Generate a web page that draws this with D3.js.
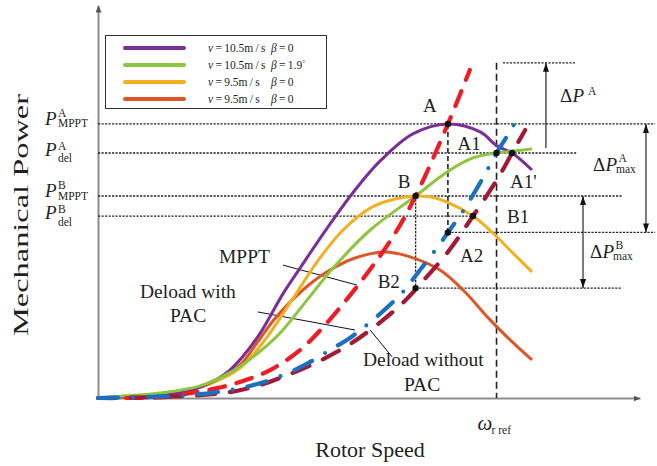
<!DOCTYPE html>
<html>
<head>
<meta charset="utf-8">
<script src="https://cdn.jsdelivr.net/npm/d3@7/dist/d3.min.js"></script>
<style>
  html, body { margin: 0; padding: 0; background: #fff; }
  text { font-family: "Liberation Serif", "Times New Roman", serif; fill: #231f20; }
</style>
</head>
<body>
<svg id="chart" width="657" height="466"></svg>
<script>
// Rotor speed in p.u. of the reference speed, mechanical power in p.u. of P_MPPT^A.
// Power curves P(ω) for the wind / pitch cases in the legend
const omegaV105 = [0, 0.105, 0.206, 0.269, 0.331, 0.399, 0.464, 0.507, 0.575, 0.645, 0.708, 0.790, 0.878, 0.959, 1.001, 1.039, 1.089];
const powerV105 = [0, 0.007, 0.018, 0.047, 0.102, 0.219, 0.380, 0.474, 0.620, 0.759, 0.865, 0.964, 1.000, 0.971, 0.920, 0.894, 0.832];

const omegaV105Pitch = [0, 0.063, 0.156, 0.256, 0.339, 0.399, 0.457, 0.519, 0.590, 0.683, 0.797, 0.876, 0.941, 1.000, 1.041, 1.089];
const powerV105Pitch = [0, 0.007, 0.018, 0.044, 0.099, 0.161, 0.237, 0.347, 0.474, 0.613, 0.737, 0.825, 0.876, 0.894, 0.901, 0.909];

const omegaV95 = [0, 0.105, 0.206, 0.281, 0.356, 0.419, 0.482, 0.557, 0.615, 0.683, 0.745, 0.797, 0.833, 0.876, 0.941, 0.991, 1.041, 1.089];
const powerV95 = [0, 0.007, 0.022, 0.051, 0.109, 0.212, 0.347, 0.511, 0.613, 0.693, 0.726, 0.737, 0.734, 0.715, 0.664, 0.602, 0.529, 0.460];

const omegaV95b = [0, 0.105, 0.206, 0.281, 0.356, 0.399, 0.439, 0.482, 0.532, 0.582, 0.645, 0.720, 0.783, 0.858, 0.916, 0.984, 1.034, 1.089];
const powerV95b = [0, 0.007, 0.022, 0.055, 0.120, 0.201, 0.281, 0.350, 0.416, 0.467, 0.511, 0.533, 0.515, 0.467, 0.394, 0.285, 0.212, 0.139];

// Control trajectories: MPPT, deload with PAC, deload without PAC
const omegaMppt = [0, 0.173, 0.231, 0.299, 0.364, 0.432, 0.507, 0.565, 0.657, 0.740, 0.797, 0.878, 0.933];
const powerMppt = [0, 0.004, 0.018, 0.036, 0.062, 0.102, 0.175, 0.259, 0.420, 0.588, 0.737, 1.000, 1.197];

const omegaPac = [0, 0.130, 0.281, 0.381, 0.439, 0.514, 0.582, 0.632, 0.665, 0.713, 0.765, 0.808, 0.858, 0.878, 0.916, 0.966, 1.000, 1.039, 1.059];
const powerPac = [0, 0.004, 0.018, 0.044, 0.069, 0.117, 0.175, 0.219, 0.255, 0.314, 0.387, 0.467, 0.562, 0.604, 0.682, 0.803, 0.894, 0.985, 1.044];

const omegaNoPac = [0, 0.156, 0.314, 0.399, 0.464, 0.550, 0.625, 0.683, 0.765, 0.813, 0.878, 0.941, 1.001, 1.039, 1.072];
const powerNoPac = [0, 0.004, 0.018, 0.044, 0.077, 0.131, 0.190, 0.248, 0.347, 0.423, 0.533, 0.664, 0.796, 0.894, 0.978];

// Legend entries
const legendSpeeds = ["10.5", "10.5", "9.5", "9.5"];
const legendPitch = ["0", "1.9", "0", "0"];

// Operating points
const pointNames = ["A", "A1", "A1'", "B", "B1", "A2", "B2"];
const pointOmega = [0.878, 1.000, 1.039, 0.797, 0.941, 0.878, 0.797];
const pointPower = [1.000, 0.894, 0.894, 0.737, 0.664, 0.604, 0.401];

// Power levels marked on the vertical axis
const levelSup = ["A", "A", "B", "B"];
const levelSub = ["MPPT", "del", "MPPT", "del"];
const levelPower = [1.000, 0.894, 0.737, 0.664];

const omegaRef = 1.0;
const powerTopA = 1.223;

const svg = d3.select("#chart");
const x = d3.scaleLinear().domain([0, 1.36]).range([98, 640]);
const y = d3.scaleLinear().domain([0, 1.434]).range([398, 5]);

const defs = svg.append("defs");
function arrowMarker(id, color, len, wid) {
  defs.append("marker")
    .attr("id", id)
    .attr("viewBox", "0 0 10 10")
    .attr("refX", 10).attr("refY", 5)
    .attr("markerUnits", "userSpaceOnUse")
    .attr("markerWidth", len).attr("markerHeight", wid)
    .attr("preserveAspectRatio", "none")
    .attr("orient", "auto-start-reverse")
    .append("path").attr("d", "M0,0L10,5L0,10z").attr("fill", color);
}
arrowMarker("axisArrow", "#555", 7, 6);
arrowMarker("blackArrow", "#111", 9, 6);

// Axes
const xAxis = svg.append("g").attr("transform", `translate(0,${y(0)})`)
  .call(d3.axisBottom(x).tickValues([]).tickSizeOuter(0));
const yAxis = svg.append("g").attr("transform", `translate(${x(0)},0)`)
  .call(d3.axisLeft(y).tickValues([]).tickSizeOuter(0));
[xAxis, yAxis].forEach(g => g.select(".domain")
  .attr("stroke", "#8d8d8d").attr("stroke-width", 2)
  .attr("marker-end", "url(#axisArrow)"));

// Reference lines
const guides = svg.append("g").attr("fill", "none").attr("stroke", "#222");
function hLine(p, w0, w1, dash, sw) {
  guides.append("line").attr("x1", x(w0)).attr("x2", x(w1)).attr("y1", y(p)).attr("y2", y(p))
    .attr("stroke-dasharray", dash).attr("stroke-width", sw);
}
function vLine(w, p0, p1, dash, sw) {
  guides.append("line").attr("x1", x(w)).attr("x2", x(w)).attr("y1", y(p0)).attr("y2", y(p1))
    .attr("stroke-dasharray", dash).attr("stroke-width", sw);
}
const dotted = "2.2,1.3";
hLine(levelPower[0], 0, 1.398, dotted, 1.3);
hLine(levelPower[1], 0, 1.202, dotted, 1.3);
hLine(levelPower[2], 0, 1.315, dotted, 1.3);
hLine(levelPower[3], 0, pointOmega[4], dotted, 1.3);
hLine(pointPower[5], pointOmega[5], 1.398, dotted, 1.3);
hLine(powerTopA, 1.016, 1.197, dotted, 1.3);
hLine(pointPower[6], pointOmega[6], 1.315, dotted, 1.3);
vLine(omegaRef, powerTopA, 0, "7,4", 1.6);
vLine(pointOmega[0], pointPower[0], pointPower[5], "5,3", 1.6);
vLine(pointOmega[3], pointPower[3], pointPower[6], dotted, 1.3);

// Arrows for power margins
function arrow(w, p0, p1, both) {
  const l = guides.append("line").attr("x1", x(w)).attr("x2", x(w)).attr("y1", y(p0)).attr("y2", y(p1))
    .attr("stroke", "#111").attr("stroke-width", 1.1).attr("marker-end", "url(#blackArrow)");
  if (both) l.attr("marker-start", "url(#blackArrow)");
}
arrow(1.124, 0.912, powerTopA, false);
arrow(1.375, levelPower[0], pointPower[5], true);
arrow(1.217, levelPower[2], pointPower[6], true);

// Leader lines for the trajectory labels
const leaders = [[0.464, 0.485, 0.650, 0.412], [0.401, 0.314, 0.645, 0.248], [0.683, 0.248, 0.738, 0.150]];
svg.append("g").selectAll("line").data(leaders).join("line")
  .attr("x1", d => x(d[0])).attr("y1", d => y(d[1])).attr("x2", d => x(d[2])).attr("y2", d => y(d[3]))
  .attr("stroke", "#111").attr("stroke-width", 1);

// Curves
const line = d3.line().x(d => x(d[0])).y(d => y(d[1])).curve(d3.curveCatmullRom.alpha(0.5));
const zip = (a, b) => a.map((v, i) => [v, b[i]]);
const curveData = [
  zip(omegaV105, powerV105), zip(omegaV105Pitch, powerV105Pitch),
  zip(omegaV95, powerV95), zip(omegaV95b, powerV95b),
  zip(omegaMppt, powerMppt), zip(omegaNoPac, powerNoPac), zip(omegaPac, powerPac)
];
const curveColor = ["#7a2e96", "#8cc63f", "#f0b020", "#de5527", "#ee1c25", "#a31a36", "#1b70c0"];
const curveWidth = [3, 3, 3, 3, 4.2, 4.2, 4.2];
const curveDash = [null, null, null, null, "16,12", "18,15", "20,15,0,15"];
const curveCap = ["butt", "butt", "butt", "butt", "round", "round", "round"];
const curveOrder = [3, 2, 0, 1, 4, 5, 6];
svg.append("g").attr("fill", "none").selectAll("path").data(curveOrder).join("path")
  .attr("d", i => line(curveData[i]))
  .attr("stroke", i => curveColor[i])
  .attr("stroke-width", i => curveWidth[i])
  .attr("stroke-dasharray", i => curveDash[i])
  .attr("stroke-linecap", i => curveCap[i]);

// Operating points
svg.append("g").selectAll("circle").data(pointNames).join("circle")
  .attr("cx", (d, i) => x(pointOmega[i])).attr("cy", (d, i) => y(pointPower[i]))
  .attr("r", 3.2).attr("fill", "#111");
const labelDx = [-25, -39, -2, -18, 34, 12, -38];
const labelDy = [-12, -3, 35, -8, 7, 30, 0];
svg.append("g").selectAll("text").data(pointNames).join("text")
  .attr("x", (d, i) => x(pointOmega[i]) + labelDx[i])
  .attr("y", (d, i) => y(pointPower[i]) + labelDy[i])
  .attr("font-size", 19).text(d => d);

// Power level labels on the left
levelPower.forEach((p, i) => {
  const yy = y(p);
  const mppt = levelSub[i] === "MPPT";
  svg.append("text").attr("x", 45).attr("y", yy + (mppt ? 1 : 3))
    .attr("font-size", 19).attr("font-style", "italic").text("P");
  svg.append("text").attr("x", 58).attr("y", yy + (mppt ? -7 : -3))
    .attr("font-size", 11.5).text(levelSup[i]);
  svg.append("text").attr("x", 58).attr("y", yy + (mppt ? 3.5 : 9.5))
    .attr("font-size", 11.5).text(levelSub[i]);
});

// Margin labels on the right
function deltaLabel(x0, base, sup, sub) {
  svg.append("text").attr("x", x0).attr("y", base).attr("font-size", 19).text("\u0394");
  svg.append("text").attr("x", x0 + 12.5).attr("y", base).attr("font-size", 19)
    .attr("font-style", "italic").text("P");
  svg.append("text").attr("x", x0 + (sub ? 25.5 : 28)).attr("y", base - (sub ? 9.5 : 7))
    .attr("font-size", 11.5).text(sup);
  if (sub) svg.append("text").attr("x", x0 + 23).attr("y", base + 2).attr("font-size", 11.5).text(sub);
}
deltaLabel(560, 102, "A", null);
deltaLabel(593, 171, "A", "max");
deltaLabel(590, 258, "B", "max");

// Trajectory labels
const trajText = svg.append("g").attr("font-size", 19.5);
trajText.append("text").attr("x", 219).attr("y", 263).text("MPPT");
trajText.append("text").attr("x", 140).attr("y", 298).text("Deload with");
trajText.append("text").attr("x", 170).attr("y", 322).text("PAC");
trajText.append("text").attr("x", 363).attr("y", 366).text("Deload without");
trajText.append("text").attr("x", 404).attr("y", 391).text("PAC");

// Reference speed label
svg.append("text").attr("x", x(omegaRef) - 19).attr("y", 430).attr("font-size", 21)
  .attr("font-style", "italic").text("\u03C9");
svg.append("text").attr("x", x(omegaRef) - 5).attr("y", 434).attr("font-size", 11.5).text("r ref");

// Axis titles
svg.append("text").attr("x", 370).attr("y", 457).attr("text-anchor", "middle")
  .attr("font-size", 22).text("Rotor Speed");
svg.append("text").attr("transform", "translate(28,215) rotate(-90)").attr("text-anchor", "middle")
  .attr("font-size", 22).attr("textLength", 242).attr("lengthAdjust", "spacingAndGlyphs")
  .text("Mechanical Power");

// Legend
const legend = svg.append("g");
legend.append("rect").attr("x", 105.5).attr("y", 35.5).attr("width", 221).attr("height", 73)
  .attr("fill", "#fff").attr("stroke", "#333").attr("stroke-width", 1);
legendSpeeds.forEach((v, i) => {
  const ly = 48 + i * 17;
  legend.append("line").attr("x1", 125).attr("x2", 184).attr("y1", ly).attr("y2", ly)
    .attr("stroke", curveColor[i]).attr("stroke-width", 4).attr("stroke-linecap", "round");
  const t = legend.append("text").attr("x", 208).attr("y", ly + 4).attr("font-size", 11.5)
    .attr("word-spacing", -0.6);
  t.append("tspan").attr("font-style", "italic").text("v");
  t.append("tspan").text(` = ${v}m / s`);
  t.append("tspan").attr("x", 271).attr("font-style", "italic").text("\u03B2");
  t.append("tspan").text(` = ${legendPitch[i]}`);
  if (legendPitch[i] !== "0") t.append("tspan").attr("font-size", 7).attr("dy", -4).text("\u00B0");
});
</script>
</body>
</html>
